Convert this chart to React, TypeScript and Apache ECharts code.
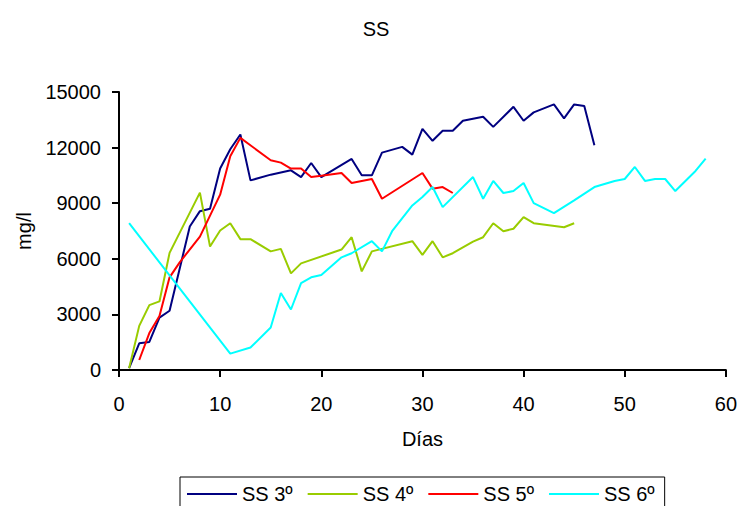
import React, { useEffect, useRef } from "react";
import * as echarts from "echarts";

const xTicks = [0, 10, 20, 30, 40, 50, 60];
const yTicks = [0, 3000, 6000, 9000, 12000, 15000];

const ss3Days = [1, 2, 3, 4, 5, 7, 8, 9, 10, 11, 12, 13, 15, 17, 18, 19, 20, 23, 24, 25, 26, 28, 29, 30, 31, 32, 33, 34, 36, 37, 39, 40, 41, 43, 44, 45, 46, 47];
const ss3Values = [100, 1440, 1515, 2830, 3195, 7740, 8570, 8700, 10870, 11910, 12710, 10230, 10540, 10775, 10410, 11170, 10410, 11390, 10505, 10505, 11730, 12040, 11620, 13010, 12365, 12905, 12905, 13450, 13665, 13120, 14200, 13450, 13900, 14330, 13575, 14330, 14240, 12130];

const ss4Days = [1, 2, 3, 4, 5, 8, 9, 10, 11, 12, 13, 15, 16, 17, 18, 22, 23, 24, 25, 29, 30, 31, 32, 33, 35, 36, 37, 38, 39, 40, 41, 44, 45];
const ss4Values = [100, 2380, 3500, 3700, 6320, 9570, 6660, 7530, 7920, 7060, 7060, 6400, 6535, 5215, 5755, 6500, 7165, 5320, 6400, 6950, 6210, 6950, 6080, 6300, 6930, 7165, 7920, 7490, 7620, 8250, 7920, 7705, 7920];

const ss5Days = [2, 3, 4, 5, 6, 8, 10, 11, 12, 15, 16, 17, 18, 19, 20, 22, 23, 25, 26, 30, 31, 32, 33];
const ss5Values = [540, 1990, 2920, 5000, 5810, 7200, 9460, 11530, 12525, 11320, 11190, 10870, 10870, 10410, 10480, 10630, 10090, 10305, 9240, 10630, 9785, 9870, 9550];

const ss6Days = [1, 11, 13, 15, 16, 17, 18, 19, 20, 22, 23, 25, 26, 27, 29, 30, 31, 32, 35, 36, 37, 38, 39, 40, 41, 43, 45, 47, 49, 50, 51, 52, 53, 54, 55, 57, 58];
const ss6Values = [7920, 885, 1210, 2290, 4150, 3265, 4690, 5000, 5125, 6080, 6300, 6950, 6400, 7490, 8880, 9330, 9870, 8790, 10410, 9240, 10200, 9550, 9655, 10090, 9005, 8465, 9150, 9870, 10200, 10305, 10955, 10200, 10305, 10305, 9655, 10740, 11410];

const seriesNames = ["SS 3º", "SS 4º", "SS 5º", "SS 6º"];
const seriesColors = ["#000080", "#99CC00", "#FF0000", "#00FFFF"];

const FONT = "'Liberation Sans', Arial, sans-serif";

function zip(d: number[], v: number[]) {
  return d.map((x, i) => [x, v[i]]);
}

export default function App() {
  const ref = useRef<HTMLDivElement>(null);
  useEffect(() => {
    document.body.style.margin = "0";
    if (!ref.current) return;
    const chart = echarts.init(ref.current, null, { renderer: "svg" });
    const datas = [
      zip(ss3Days, ss3Values),
      zip(ss4Days, ss4Values),
      zip(ss5Days, ss5Values),
      zip(ss6Days, ss6Values),
    ];
    chart.setOption({
      animation: false,
      backgroundColor: "#ffffff",
      title: {
        text: "SS",
        left: 371,
        top: 14,
        textAlign: "center",
        textStyle: { fontFamily: FONT, fontSize: 20, fontWeight: "normal", color: "#000" },
      },
      grid: { left: 119, top: 92, width: 609, height: 278 },
      xAxis: {
        type: "value",
        min: xTicks[0],
        max: xTicks[xTicks.length - 1],
        interval: 10,
        name: "Días",
        nameLocation: "middle",
        nameGap: 59,
        nameTextStyle: { fontFamily: FONT, fontSize: 20, color: "#000" },
        axisLine: { lineStyle: { color: "#000", width: 2 } },
        axisTick: { length: 7, lineStyle: { color: "#000", width: 2 } },
        axisLabel: { fontFamily: FONT, fontSize: 20, color: "#000", margin: 24 },
        splitLine: { show: false },
      },
      yAxis: {
        type: "value",
        min: yTicks[0],
        max: yTicks[yTicks.length - 1],
        interval: 3000,
        name: "mg/l",
        nameLocation: "middle",
        nameGap: 85,
        nameRotate: 90,
        nameTextStyle: { fontFamily: FONT, fontSize: 20, color: "#000" },
        axisLine: { show: true, lineStyle: { color: "#000", width: 2 } },
        axisTick: { show: true, length: 7, lineStyle: { color: "#000", width: 2 } },
        axisLabel: {
          fontFamily: FONT,
          fontSize: 20,
          color: "#000",
          margin: 18,
          formatter: (v: number) => String(v),
        },
        splitLine: { show: false },
      },
      legend: {
        left: 180,
        top: 477,
        data: seriesNames,
        icon: "rect",
        itemWidth: 50,
        itemHeight: 2,
        itemGap: 15,
        padding: [7, 10, 7, 7],
        borderColor: "#000",
        borderWidth: 1,
        textStyle: { fontFamily: FONT, fontSize: 20, color: "#000" },
      },
      series: datas.map((d, i) => ({
        type: "line",
        name: seriesNames[i],
        data: d,
        showSymbol: false,
        symbol: "none",
        color: seriesColors[i],
        lineStyle: { width: 2, color: seriesColors[i] },
      })),
    });
    return () => chart.dispose();
  }, []);
  return <div ref={ref} style={{ width: 740, height: 506 }} />;
}
